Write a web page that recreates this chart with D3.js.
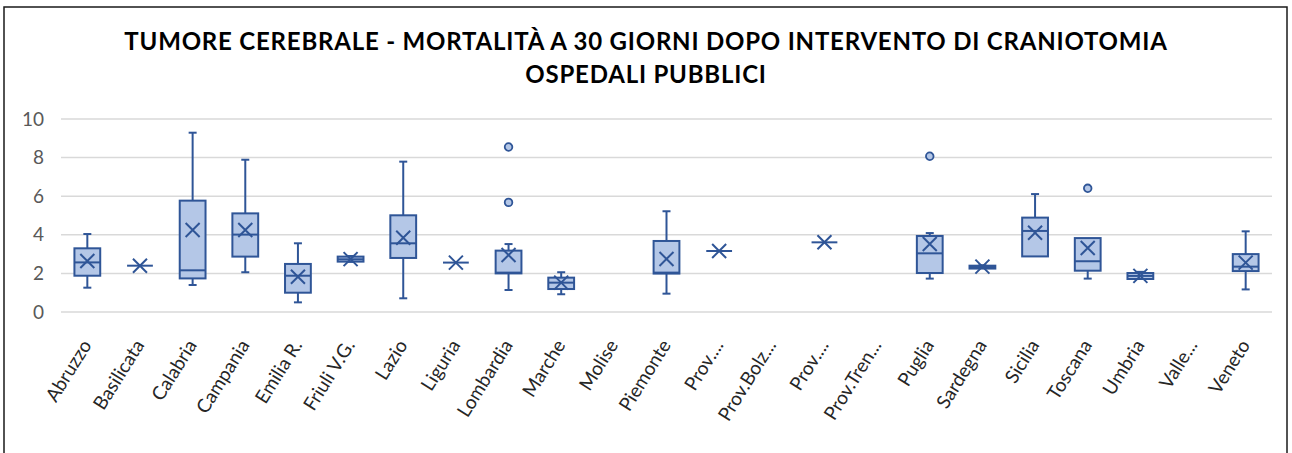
<!DOCTYPE html>
<html>
<head>
<meta charset="utf-8">
<script src="https://cdn.jsdelivr.net/npm/d3@7"></script>
<style>
  body { margin: 0; background: #fff; }
  svg { display: block; }
</style>
</head>
<body>
<svg id="chart" width="1292" height="453"></svg>
<script>
var regions = ["Abruzzo", "Basilicata", "Calabria", "Campania", "Emilia R.", "Friuli  V.G.", "Lazio",
    "Liguria", "Lombardia", "Marche", "Molise", "Piemonte", "Prov....", "Prov.Bolz...", "Prov....",
    "Prov.Tren...", "Puglia", "Sardegna", "Sicilia", "Toscana", "Umbria", "Valle...", "Veneto"]
// five numbers per region (whisker low, q1, median, q3, whisker high), null where no data
var whiskerLow  = [1.26, 2.40, 1.40, 2.06, 0.50, 2.60, 0.71, 2.56, 1.14, 0.92, null, 0.95, 3.16, null, 3.61, null, 1.73, 2.25, 2.88, 1.73, 1.71, null, 1.17]
var q1          = [1.88, 2.40, 1.74, 2.87, 1.00, 2.61, 2.80, 2.56, 2.00, 1.19, null, 1.99, 3.16, null, 3.61, null, 2.02, 2.25, 2.88, 2.14, 1.71, null, 2.12]
var median      = [2.57, 2.40, 2.16, 4.01, 1.88, 2.73, 3.56, 2.56, 2.04, 1.52, null, 2.04, 3.16, null, 3.61, null, 3.04, 2.33, 4.20, 2.63, 1.87, null, 2.35]
var q3          = [3.30, 2.40, 5.77, 5.11, 2.49, 2.87, 5.01, 2.56, 3.18, 1.78, null, 3.68, 3.16, null, 3.61, null, 3.94, 2.40, 4.89, 3.83, 2.02, null, 3.00]
var whiskerHigh = [4.04, 2.40, 9.29, 7.89, 3.56, 2.90, 7.79, 2.56, 3.52, 2.06, null, 5.22, 3.16, null, 3.61, null, 4.09, 2.42, 6.11, 3.83, 2.08, null, 4.18]
var means       = [2.64, 2.40, 4.25, 4.25, 1.83, 2.74, 3.85, 2.56, 2.95, 1.52, null, 2.75, 3.16, null, 3.61, null, 3.52, 2.35, 4.11, 3.32, 1.87, null, 2.56]
var outliers    = [[], [], [], [], [], [], [], [], [8.55, 5.68], [], [], [], [], [], [], [], [8.07], [], [], [6.41], [], [], []]
var yTicks = [0, 2, 4, 6, 8, 10]
var titleLines = ["TUMORE CEREBRALE - MORTALITÀ A 30 GIORNI DOPO INTERVENTO DI CRANIOTOMIA", "OSPEDALI PUBBLICI"]

var dark = "#2f5597", light = "#b4c7e7", grid = "#d9d9d9", labelColor = "#595959"

var svg = d3.select("#chart")

// chart frame
svg.append("rect")
    .attr("x", 4).attr("y", 7)
    .attr("width", 1283).attr("height", 460)
    .attr("fill", "#fff").attr("stroke", "#1a1a1a").attr("stroke-width", 1.5)

// title
svg.selectAll("text.title")
    .data(titleLines)
    .enter().append("text")
    .attr("class", "title")
    .attr("x", 646)
    .attr("y", function (d, i) { return 50 + i * 33; })
    .attr("text-anchor", "middle")
    .attr("font-family", "Lato, 'Open Sans', sans-serif")
    .attr("font-weight", "bold")
    .attr("font-size", "24px")
    .attr("letter-spacing", "0.8px")
    .attr("fill", "#000")
    .text(function (d) { return d; });

var xScale = d3.scaleBand().domain(d3.range(regions.length)).range([61, 1272]).padding(0)
var yScale = d3.scaleLinear().domain([0, 10]).range([312, 119])
var boxW = xScale.bandwidth() * 0.49
var capW = 8

// gridlines
svg.append("g")
    .selectAll("line")
    .data(yTicks)
    .enter().append("line")
    .attr("x1", 61).attr("x2", 1272)
    .attr("y1", function (d) { return yScale(d); })
    .attr("y2", function (d) { return yScale(d); })
    .attr("stroke", grid).attr("stroke-width", 1.5)

// y axis labels
var yAxis = svg.append("g")
    .attr("transform", "translate(44,0)")
    .call(d3.axisLeft(yScale).tickValues(yTicks).tickSize(0).tickPadding(0))
yAxis.select(".domain").remove()
yAxis.selectAll("text")
    .attr("font-family", "Lato, 'Open Sans', sans-serif")
    .attr("font-size", "19px")
    .attr("fill", labelColor)

// x axis labels
var xAxis = svg.append("g")
    .attr("transform", "translate(0,312)")
    .call(d3.axisBottom(xScale).tickSize(0).tickFormat(function (i) { return regions[i]; }))
xAxis.select(".domain").remove()
xAxis.selectAll("text")
    .attr("font-family", "Lato, 'Open Sans', sans-serif")
    .attr("font-size", "19px")
    .attr("fill", "#262626")
    .attr("text-anchor", "end")
    .attr("x", 0).attr("y", 0).attr("dy", 0)
    .attr("transform", "translate(5,33) rotate(-58)")

var rows = regions.map(function (r, i) {
    return {i: i, lo: whiskerLow[i], q1: q1[i], med: median[i], q3: q3[i], hi: whiskerHigh[i], mean: means[i], out: outliers[i]}
}).filter(function (d) { return d.med !== null; })

var boxes = svg.append("g").selectAll("g")
    .data(rows)
    .enter().append("g")
    .attr("transform", function (d) { return "translate(" + (xScale(d.i) + xScale.bandwidth() / 2) + ",0)"; })

// whiskers
boxes.append("line")
    .attr("x1", 0).attr("x2", 0)
    .attr("y1", function (d) { return yScale(d.hi); })
    .attr("y2", function (d) { return yScale(d.q3); })
    .attr("stroke", dark).attr("stroke-width", 2)
boxes.append("line")
    .attr("x1", 0).attr("x2", 0)
    .attr("y1", function (d) { return yScale(d.q1); })
    .attr("y2", function (d) { return yScale(d.lo); })
    .attr("stroke", dark).attr("stroke-width", 2)
boxes.filter(function (d) { return d.hi > d.q3; }).append("line")
    .attr("x1", -capW / 2).attr("x2", capW / 2)
    .attr("y1", function (d) { return yScale(d.hi); })
    .attr("y2", function (d) { return yScale(d.hi); })
    .attr("stroke", dark).attr("stroke-width", 2)
boxes.filter(function (d) { return d.lo < d.q1; }).append("line")
    .attr("x1", -capW / 2).attr("x2", capW / 2)
    .attr("y1", function (d) { return yScale(d.lo); })
    .attr("y2", function (d) { return yScale(d.lo); })
    .attr("stroke", dark).attr("stroke-width", 2)

// box
boxes.append("rect")
    .attr("x", -boxW / 2)
    .attr("width", boxW)
    .attr("y", function (d) { return yScale(d.q3); })
    .attr("height", function (d) { return yScale(d.q1) - yScale(d.q3); })
    .attr("fill", light).attr("stroke", dark).attr("stroke-width", 2)

// median
boxes.append("line")
    .attr("x1", -boxW / 2).attr("x2", boxW / 2)
    .attr("y1", function (d) { return yScale(d.med); })
    .attr("y2", function (d) { return yScale(d.med); })
    .attr("stroke", dark).attr("stroke-width", 2)

// mean marker
var m = 7
boxes.append("path")
    .attr("d", function (d) {
        var y = yScale(d.mean)
        return "M" + (-m) + "," + (y - m) + "L" + m + "," + (y + m) + "M" + (-m) + "," + (y + m) + "L" + m + "," + (y - m)
    })
    .attr("stroke", dark).attr("stroke-width", 2).attr("fill", "none")

// outliers
boxes.selectAll("circle")
    .data(function (d) { return d.out; })
    .enter().append("circle")
    .attr("cx", 0)
    .attr("cy", function (v) { return yScale(v); })
    .attr("r", 3.8)
    .attr("fill", light).attr("stroke", dark).attr("stroke-width", 1.8)
</script>
</body>
</html>
